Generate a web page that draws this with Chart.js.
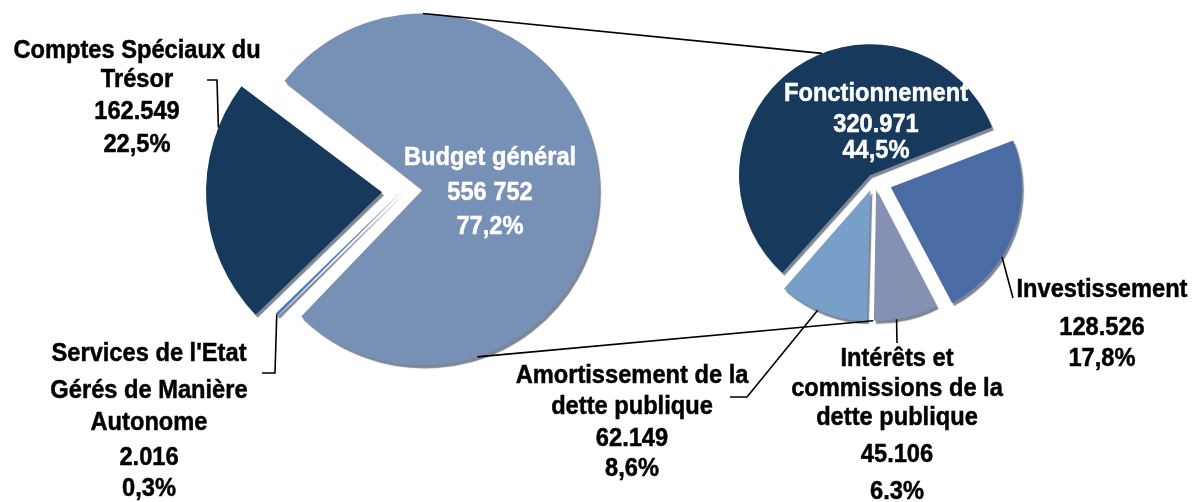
<!DOCTYPE html>
<html lang="fr">
<head>
<meta charset="UTF-8">
<title>Budget général - répartition</title>
<script src="https://cdn.jsdelivr.net/npm/chart.js"></script>
<style>
  * { margin: 0; padding: 0; box-sizing: border-box; }
  body { background: #fff; width: 1194px; height: 502px; overflow: hidden; }
  #wrap { position: relative; width: 1194px; height: 502px; }
  #wrap canvas { position: absolute; left: 0; top: 0; }
</style>
</head>
<body>
<div id="wrap">
  <canvas id="leftPie" width="1194" height="502"></canvas>
  <canvas id="rightPie" width="1194" height="502"></canvas>
</div>
<script>
// first pie: total split
const leftLabels = ['Budget général', "Services de l'Etat Gérés de Manière Autonome", 'Comptes Spéciaux du Trésor'];
const leftValues = [556752, 2016, 162549];
const leftAmounts = ['556 752', '2.016', '162.549'];
const leftShares = ['77,2%', '0,3%', '22,5%'];
const leftColors = ['#7790b5', '#4f7fb8', '#17395b'];

// second pie: detail of Budget général
const rightLabels = ['Investissement', 'Intérêts et commissions de la dette publique', 'Amortissement de la dette publique', 'Fonctionnement'];
const rightValues = [128526, 45106, 62149, 320971];
const rightAmounts = ['128.526', '45.106', '62.149', '320.971'];
const rightShares = ['17,8%', '6.3%', '8,6%', '44,5%'];
const rightColors = ['#4a6ba3', '#8591b2', '#779fc7', '#17395b'];

const FONT = 'bold 26px "Liberation Sans", Arial, sans-serif';

function txt(ctx, s, x, y, color) {
  // y is the visual middle of the caps
  ctx.save();
  ctx.translate(x, y + 9.3);
  ctx.scale(0.91, 1);
  ctx.font = FONT;
  ctx.fillStyle = color;
  ctx.strokeStyle = color;
  ctx.lineWidth = 0.5;
  ctx.textAlign = 'center';
  ctx.textBaseline = 'alphabetic';
  ctx.fillText(s, 0, 0);
  ctx.strokeText(s, 0, 0);
  ctx.restore();
}

function block(ctx, lines, x, ys, color) {
  lines.forEach((s, i) => txt(ctx, s, x, ys[i], color));
}

// where a slice really sits once chart.js has pushed it out
function geo(arc) {
  const mid = (arc.startAngle + arc.endAngle) / 2;
  const t = (arc.options.offset || 0) / 4;
  const fix = 1 - Math.sin(Math.min(Math.PI, arc.circumference));
  return { cx: arc.x + Math.cos(mid) * t, cy: arc.y + Math.sin(mid) * t, r: arc.outerRadius + t * fix };
}
function edge(arc, deg) {
  const g = geo(arc);
  const a = deg * Math.PI / 180;
  return [g.cx + g.r * Math.cos(a), g.cy + g.r * Math.sin(a)];
}
function poly(ctx, pts) {
  ctx.save();
  ctx.strokeStyle = '#000';
  ctx.lineWidth = 1.6;
  ctx.beginPath();
  pts.forEach((p, i) => i ? ctx.lineTo(p[0], p[1]) : ctx.moveTo(p[0], p[1]));
  ctx.stroke();
  ctx.restore();
}

// keep every slice the same radius, chart.js grows the exploded ones
const evenRadius = {
  id: 'evenRadius',
  afterDatasetsUpdate(chart) {
    const meta = chart.getDatasetMeta(0);
    const base = meta.controller.outerRadius;
    meta.data.forEach(arc => {
      const t = (arc.options.offset || 0) / 4;
      const fix = 1 - Math.sin(Math.min(Math.PI, arc.circumference));
      arc.outerRadius = base - t * fix;
    });
  }
};

const rim = {
  id: 'rim',
  beforeDatasetsDraw(chart) {
    const ctx = chart.ctx;
    ctx.save();
    ctx.shadowColor = 'rgba(20, 35, 60, 0.55)';
    ctx.shadowOffsetX = 2;
    ctx.shadowOffsetY = 3;
    ctx.shadowBlur = 1;
  },
  afterDatasetsDraw(chart) { chart.ctx.restore(); }
};

const leftText = {
  id: 'leftText',
  afterDraw(chart) {
    const ctx = chart.ctx;
    const arcs = chart.getDatasetMeta(0).data;
    // leader lines
    poly(ctx, [[207, 80], [217, 80], edge(arcs[2], 201.6)]);
    const sv = arcs[1];
    poly(ctx, [[262, 373], [275, 373], edge(sv, (sv.startAngle + sv.endAngle) / 2 * 180 / Math.PI)]);

    block(ctx, ['Comptes Spéciaux du', 'Trésor', leftAmounts[2], leftShares[2]], 137, [49, 78, 110, 143], '#000');
    block(ctx, ["Services de l'Etat", 'Gérés de Manière', 'Autonome', leftAmounts[1], leftShares[1]], 149, [352, 389, 421, 456, 487], '#000');
    block(ctx, [leftLabels[0], leftAmounts[0], leftShares[0]], 490, [156, 191, 225], '#fff');
  }
};

const leftChart = new Chart(document.getElementById('leftPie'), {
  type: 'pie',
  data: {
    labels: leftLabels,
    datasets: [{
      data: leftValues,
      backgroundColor: leftColors,
      borderWidth: 0,
      offset: [84, 0, 80],
      hoverOffset: 0
    }]
  },
  options: {
    responsive: false,
    animation: false,
    events: [],
    rotation: 307,
    radius: 176,
    layout: { padding: { left: 211, right: 601, top: 0, bottom: 120 } },
    plugins: { legend: { display: false }, tooltip: { enabled: false } }
  },
  plugins: [evenRadius, rim, leftText]
});

const rightText = {
  id: 'rightText',
  afterDraw(chart) {
    const ctx = chart.ctx;
    const arcs = chart.getDatasetMeta(0).data;
    const left = leftChart.getDatasetMeta(0).data;

    // pie of pie connectors
    poly(ctx, [edge(left[0], -90), edge(arcs[3], 248.5)]);
    poly(ctx, [edge(left[0], 72), edge(arcs[1], arcs[1].endAngle * 180 / Math.PI)]);

    // leader lines
    poly(ctx, [edge(arcs[0], 32), [1013, 298]]);
    poly(ctx, [[730, 397], [747, 397], edge(arcs[2], 113.7)]);
    poly(ctx, [edge(arcs[1], 81), [897, 343]]);

    block(ctx, ['Fonctionnement', rightAmounts[3], rightShares[3]], 876, [92, 123, 149], '#fff');
    block(ctx, [rightLabels[0], rightAmounts[0], rightShares[0]], 1102, [288, 326, 357], '#000');
    block(ctx, ['Amortissement de la', 'dette publique', rightAmounts[2], rightShares[2]], 632, [374, 405, 437, 467], '#000');
    block(ctx, ['Intérêts et', 'commissions de la', 'dette publique', rightAmounts[1], rightShares[1]], 897, [357, 387, 416, 453, 490], '#000');
  }
};

new Chart(document.getElementById('rightPie'), {
  type: 'pie',
  data: {
    labels: rightLabels,
    datasets: [{
      data: rightValues,
      backgroundColor: rightColors,
      borderWidth: 0,
      offset: [72, 36, 40, 28],
      hoverOffset: 0
    }]
  },
  options: {
    responsive: false,
    animation: false,
    events: [],
    rotation: 69,
    radius: 131,
    layout: { padding: { left: 693, right: 139, top: 0, bottom: 140 } },
    plugins: { legend: { display: false }, tooltip: { enabled: false } }
  },
  plugins: [evenRadius, rim, rightText]
});
</script>
</body>
</html>
